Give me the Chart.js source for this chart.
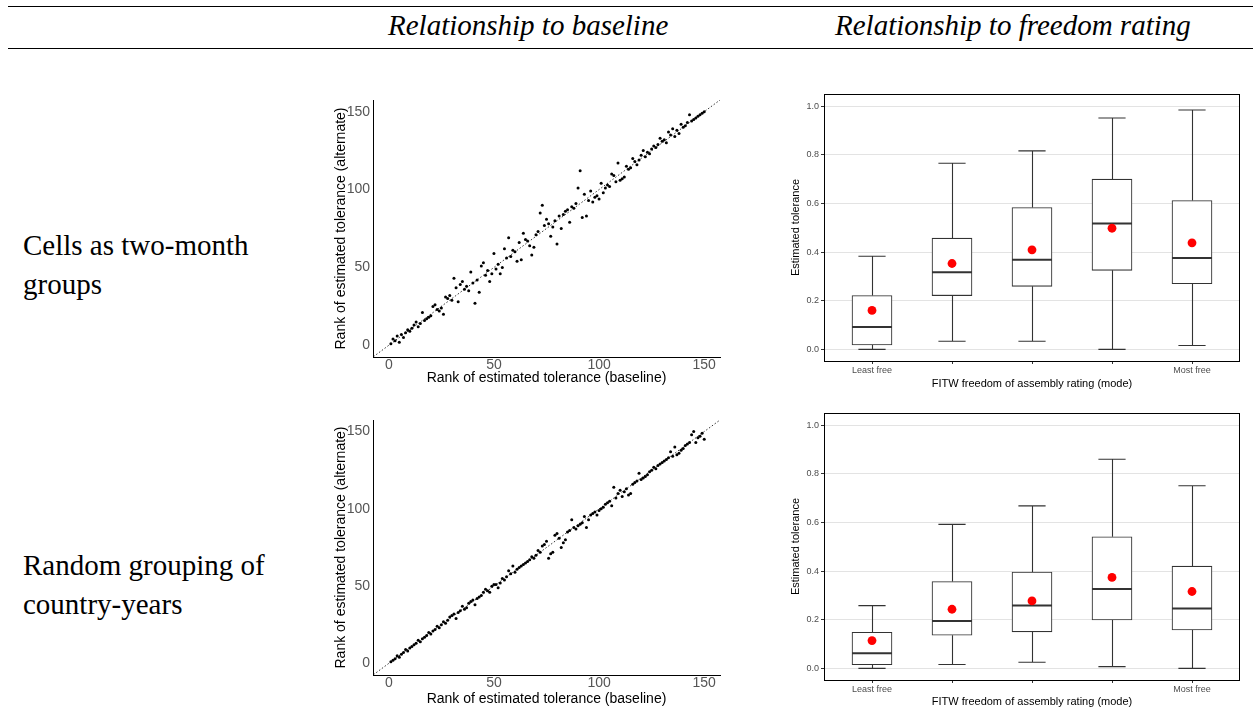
<!DOCTYPE html>
<html>
<head>
<meta charset="utf-8">
<script src="https://cdn.jsdelivr.net/npm/chart.js@4.4.0/dist/chart.umd.min.js"></script>
<style>
body{margin:0;background:#fff;width:1253px;height:723px;position:relative;overflow:hidden;font-family:"Liberation Serif","Times New Roman",serif;}
.rule{position:absolute;left:8px;right:0;border-top:1.3px solid #000;}
.txt{position:absolute;font-size:29px;line-height:39px;white-space:nowrap;color:#000;}
.hd{font-style:italic;}
canvas{position:absolute;}
</style>
</head>
<body>
<div class="rule" style="top:6px"></div>
<div class="rule" style="top:48px"></div>
<div class="txt hd" style="left:388px;top:6px">Relationship to baseline</div>
<div class="txt hd" style="left:835px;top:6px">Relationship to freedom rating</div>
<div class="txt" style="left:23px;top:226px">Cells as two-month<br>groups</div>
<div class="txt" style="left:23px;top:546px">Random grouping of<br>country-years</div>

<canvas id="sc1" width="400" height="300" style="left:330px;top:90px"></canvas>
<canvas id="sc2" width="400" height="300" style="left:330px;top:410px"></canvas>
<canvas id="bx1" width="483" height="310" style="left:770px;top:85px"></canvas>
<canvas id="bx2" width="483" height="310" style="left:770px;top:405px"></canvas>

<script>
/* rank comparison scatters + boxplots by freedom rating */

const SANS = "'Liberation Sans', Arial, sans-serif";

// ── Data: scatter plots ─────────────────────────────────────────────────────
const rankTicks = [0, 50, 100, 150];
const refLine   = [-10, 160];   // y = x reference
const baseRank = [
      1,  2,  3,  4,  5,  6,  7,  8,  9, 10,
     11, 12, 13, 14, 15, 16, 17, 18, 19, 20,
     21, 22, 23, 24, 25, 26, 27, 28, 29, 30,
     31, 32, 33, 34, 35, 36, 37, 38, 39, 40,
     41, 42, 43, 44, 45, 46, 47, 48, 49, 50,
     51, 52, 53, 54, 55, 56, 57, 58, 59, 60,
     61, 62, 63, 64, 65, 66, 67, 68, 69, 70,
     71, 72, 73, 74, 75, 76, 77, 78, 79, 80,
     81, 82, 83, 84, 85, 86, 87, 88, 89, 90,
     91, 92, 93, 94, 95, 96, 97, 98, 99,100,
    101,102,103,104,105,106,107,108,109,110,
    111,112,113,114,115,116,117,118,119,120,
    121,122,123,124,125,126,127,128,129,130,
    131,132,133,134,135,136,137,138,139,140,
    141,142,143,144,145,146,147,148,149,150];
// two-month cells
const altRank1 = [
      1,  4,  3,  6,  2,  7,  5,  8, 10,  9,
     11, 13, 15, 12, 14, 21, 16, 17, 18, 19,
     25, 26, 23, 22, 24, 20, 31, 30, 32, 29,
     43, 37, 28, 39, 41, 36, 38, 35, 47, 40,
     27, 42, 34, 51, 53, 45, 48, 41, 46, 59,
     49, 52, 46, 50, 62, 56, 69, 57, 61, 60,
     54, 66, 55, 72, 68, 67, 64, 58, 63, 71,
     73, 85, 90, 77, 81, 78, 70, 76, 80, 65,
     83, 75, 84, 86, 87, 79, 89, 88, 91,101,
    112, 82, 97, 83, 93, 99, 92, 95, 96, 94,
    104, 98,101,103,102,110,109,105,117,106,
    107,108,115,113,114,120,118,116,119,122,
    125,121,124,123,126,128,127,129,133,131,
    132,130,137,135,139,134,138,136,142,140,
    141,143,148,144,145,146,147,148,149,150];
// random country-year groups
const altRank2 = [
      1,  2,  3,  5,  4,  6,  7,  9,  8, 10,
     11, 12, 13, 15, 14, 16, 17, 18, 20, 19,
     21, 22, 24, 23, 25, 27, 26, 28, 30, 31,
     32, 29, 33, 34, 37, 35, 36, 39, 40, 41,
     38, 42, 43, 44, 46, 48, 47, 46, 50, 51,
     51, 49, 52, 55, 54, 56, 60, 58, 63, 59,
     61, 62, 63, 64, 65, 66, 67, 69, 68, 70,
     73, 72, 76, 77, 79, 68, 71, 72, 83, 84,
     81, 75, 78, 80, 85, 86, 93, 88, 87, 89,
     90, 91, 95, 88, 93, 96, 97, 98, 96, 99,
    100,101,103,104,105,102,114,107,110,112,
    108,111,113,109,110,116,117,118,123,119,
    120,121,122,124,125,127,126,128,129,130,
    131,132,133,137,134,140,135,136,138,139,
    141,142,143,148,150,143,146,147,149,145];

// ── Data: boxplots ──────────────────────────────────────────────────────────
const freeLabels = ["Least free", "", "", "", "Most free"];
const tolTicks   = [0, 0.2, 0.4, 0.6, 0.8, 1.0];

const whiskLo1 = [0.000, 0.033, 0.033, 0.000, 0.016];
const boxLo1   = [0.018, 0.221, 0.259, 0.325, 0.270];
const median1  = [0.092, 0.317, 0.368, 0.517, 0.376];
const boxHi1   = [0.221, 0.457, 0.583, 0.700, 0.612];
const whiskHi1 = [0.383, 0.765, 0.816, 0.951, 0.984];
const mean1    = [0.160, 0.353, 0.409, 0.498, 0.438];

const whiskLo2 = [0.000, 0.016, 0.025, 0.007, 0.000];
const boxLo2   = [0.015, 0.136, 0.150, 0.199, 0.158];
const median2  = [0.062, 0.195, 0.258, 0.326, 0.246];
const boxHi2   = [0.148, 0.357, 0.396, 0.541, 0.420];
const whiskHi2 = [0.258, 0.592, 0.668, 0.860, 0.751];
const mean2    = [0.114, 0.243, 0.277, 0.374, 0.316];

// ── Scatter ────────────────────────────────────────────────────────────────
function scatterChart(id, alt, padTop, xAxisH, titlePb){
    const pts = baseRank.map((b,i)=>({x:b, y:alt[i]}));
    const tickFont = {family:SANS, size:14, lineHeight:1};
    return new Chart(document.getElementById(id),{
        type:"scatter",
        data:{datasets:[
            {data:pts, pointRadius:1.5, pointBackgroundColor:"#000", pointBorderWidth:0},
            {type:"line", data:refLine.map(v=>({x:v,y:v})), borderColor:"#000", borderWidth:0.8,
             borderDash:[1.5,2], pointRadius:0, fill:false}
        ]},
        options:{responsive:false, animation:false, events:[],
            layout:{padding:{top:padTop, right:10, left:0, bottom:0}},
            plugins:{legend:{display:false}, tooltip:{enabled:false}},
            scales:{
                x:{type:"linear", min:-7.5, max:157.5,
                   afterBuildTicks:s=>{ s.ticks = rankTicks.map(v=>({value:v})); },
                   afterFit:s=>{ s.height = xAxisH; },
                   grid:{display:false, drawTicks:false}, border:{display:true, color:"#000", width:1},
                   ticks:{font:tickFont, color:"#555", padding:1, maxRotation:0},
                   title:{display:true, text:"Rank of estimated tolerance (baseline)",
                          font:{family:SANS, size:14}, color:"#000", padding:{top:0, bottom:titlePb}}},
                y:{type:"linear", min:-7.5, max:157.5,
                   afterBuildTicks:s=>{ s.ticks = rankTicks.map(v=>({value:v})); },
                   afterFit:s=>{ s.width = 43; },
                   grid:{display:false, drawTicks:false}, border:{display:true, color:"#000", width:1},
                   ticks:{font:tickFont, color:"#555", padding:3},
                   title:{display:true, text:"Rank of estimated tolerance (alternate)",
                          font:{family:SANS, size:14}, color:"#000", padding:{top:3, bottom:0}}}
            }
        }
    });
}

// ── Boxplot ────────────────────────────────────────────────────────────────
function boxPlugin(lo, med, hi){
    return {
        id:"boxParts",
        beforeDatasetsDraw(chart){
            const {ctx, scales:{x, y}} = chart;
            ctx.save();
            ctx.strokeStyle = "#333"; ctx.lineWidth = 1.1;
            freeLabels.forEach((_,i)=>{
                const c = i+1, px = Math.round(x.getPixelForValue(c))+0.5;
                const l = x.getPixelForValue(c-0.17), r = x.getPixelForValue(c+0.17);
                ctx.beginPath();
                ctx.moveTo(px, y.getPixelForValue(hi[i][1])); ctx.lineTo(px, y.getPixelForValue(hi[i][0]));
                ctx.moveTo(px, y.getPixelForValue(lo[i][0])); ctx.lineTo(px, y.getPixelForValue(lo[i][1]));
                ctx.moveTo(l, y.getPixelForValue(hi[i][1])); ctx.lineTo(r, y.getPixelForValue(hi[i][1]));
                ctx.moveTo(l, y.getPixelForValue(lo[i][1])); ctx.lineTo(r, y.getPixelForValue(lo[i][1]));
                ctx.stroke();
            });
            ctx.restore();
        },
        afterDatasetDraw(chart, args){
            if(args.index!==1) return;
            const {ctx, scales:{x, y}} = chart;
            ctx.save();
            ctx.strokeStyle = "#333"; ctx.lineWidth = 2;
            freeLabels.forEach((_,i)=>{
                const c = i+1, py = y.getPixelForValue(med[i]);
                ctx.beginPath();
                ctx.moveTo(x.getPixelForValue(c-0.25), py);
                ctx.lineTo(x.getPixelForValue(c+0.25), py);
                ctx.stroke();
            });
            ctx.restore();
        },
        afterDraw(chart){
            const {ctx, chartArea:a} = chart;
            ctx.save();
            ctx.strokeStyle = "#000"; ctx.lineWidth = 1;
            ctx.strokeRect(Math.round(a.left)+0.5, Math.round(a.top)+0.5,
                           Math.round(a.right-a.left)-1, Math.round(a.bottom-a.top));
            ctx.restore();
        }
    };
}

function boxChart(id, wLo, bLo, med, bHi, wHi, mean, padTop, xAxisH, titlePb){
    const pos = freeLabels.map((_,i)=>i+1);
    const tick = {family:SANS, size:9};
    return new Chart(document.getElementById(id),{
        type:"bar",
        data:{datasets:[
            {type:"scatter", data:pos.map((c,i)=>({x:c, y:mean[i]})),
             pointRadius:4.4, pointBackgroundColor:"#ff0000", pointBorderWidth:0},
            {type:"bar", data:pos.map((c,i)=>({x:c, y:[bLo[i], bHi[i]]})),
             backgroundColor:"#fff", borderColor:"#333", borderWidth:1.1, borderSkipped:false, barThickness:40}
        ]},
        options:{responsive:false, animation:false, events:[],
            layout:{padding:{top:padTop, right:13, left:0, bottom:0}},
            plugins:{legend:{display:false}, tooltip:{enabled:false}},
            scales:{
                x:{type:"linear", min:0.4, max:5.6, offset:false,
                   afterBuildTicks:s=>{ s.ticks = pos.map(v=>({value:v})); },
                   afterFit:s=>{ s.height = xAxisH; },
                   grid:{display:true, drawOnChartArea:false, drawTicks:true, tickLength:3, tickColor:"#333", offset:false},
                   border:{display:false},
                   ticks:{font:tick, color:"#4d4d4d", padding:1, maxRotation:0, autoSkip:false,
                          callback:(v)=>freeLabels[Math.round(v)-1] ?? ""},
                   title:{display:true, text:"FITW freedom of assembly rating (mode)",
                          font:{family:SANS, size:11}, color:"#000", padding:{top:0, bottom:titlePb}}},
                y:{type:"linear", min:-0.048, max:1.05,
                   afterBuildTicks:s=>{ s.ticks = tolTicks.map(v=>({value:v})); },
                   afterFit:s=>{ s.width = 54; },
                   grid:{display:true, color:"#e3e3e3", lineWidth:1, drawTicks:true, tickLength:3, tickColor:"#333"},
                   border:{display:false},
                   ticks:{font:tick, color:"#4d4d4d", padding:2, callback:v=>v.toFixed(1)},
                   title:{display:true, text:"Estimated tolerance",
                          font:{family:SANS, size:11}, color:"#000", padding:{top:19, bottom:0}}}
            }
        },
        plugins:[boxPlugin(
            wLo.map((v,i)=>[bLo[i], v]),
            med,
            wHi.map((v,i)=>[bHi[i], v])
        )]
    });
}

scatterChart("sc1", altRank1, 7, 33, 3);
scatterChart("sc2", altRank2, 7, 35, 2);
boxChart("bx1", whiskLo1, boxLo1, median1, boxHi1, whiskHi1, mean1, 9, 34, 4.4);
boxChart("bx2", whiskLo2, boxLo2, median2, boxHi2, whiskHi2, mean2, 8, 35, 6.7);
</script>
</body>
</html>
